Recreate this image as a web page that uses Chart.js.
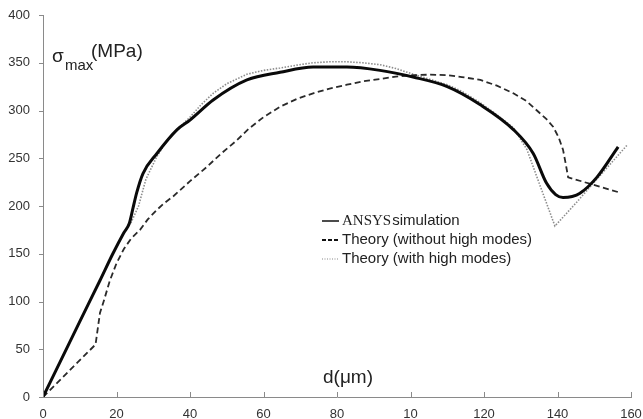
<!DOCTYPE html>
<html>
<head>
<meta charset="utf-8">
<script src="https://cdn.jsdelivr.net/npm/chart.js@4/dist/chart.umd.min.js"></script>
<style>
  html, body { margin: 0; padding: 0; background: #fff; }
  #wrap { width: 643px; height: 419px; }
</style>
</head>
<body>
<div id="wrap"><canvas id="c" width="643" height="419"></canvas></div>
<script>
// values: d in micrometres, sigma_max in MPa
var ansysX = [0, 10, 15.5, 19, 22, 23.5, 24.5, 25.5, 27.2, 31, 36.5, 40, 46.3, 55.5, 64.5, 73.5, 82.7, 91.7, 100.7, 110, 119, 128, 133.4, 137, 139.5, 141.5, 144, 146, 150.7, 156.5];
var ansysY = [0, 79, 122, 150, 172, 182, 198, 214, 234, 255, 280, 290, 311, 332, 340, 345.5, 345.5, 342, 335, 325, 306, 280, 255, 224, 212, 209, 210, 213, 230, 262];

var noHighX = [0, 14.3, 15.5, 16.5, 18.2, 20, 22, 24, 26.4, 28.5, 31, 33, 35.4, 40, 44.6, 48.5, 52.8, 56, 60, 64.5, 69, 73.5, 78, 82.7, 87, 91.7, 96, 100.7, 105, 110, 114, 119, 123.5, 128, 131.5, 134.4, 137, 138.8, 140.3, 141.5, 142.2, 142.9, 157];
var noHighY = [0, 55, 88, 100, 122, 140, 155, 166, 175, 186, 196, 203, 210, 226, 241, 255, 269, 281, 293, 304, 312, 318, 323, 327, 330.5, 333, 335.5, 337, 337.5, 337, 335, 332, 326, 318, 310, 300, 291, 283, 272, 259, 245, 230, 214];

var withHighX = [0, 10, 15.5, 19, 22, 24, 26, 28, 31, 34, 36.5, 40, 43, 46.3, 50, 55.5, 60, 64.5, 69, 73.5, 78, 82.7, 87, 91.7, 96, 100.7, 105, 110, 114, 119, 123, 128, 131.7, 135, 139.3, 145, 150, 159];
var withHighY = [0, 79, 122, 150, 172, 183, 200, 228, 252, 270, 280, 293, 306, 318, 328, 338, 342, 344.5, 347.5, 350, 351, 351, 350, 348, 344, 338, 333, 327, 320, 308, 297, 282, 259, 224, 179, 203, 225, 264];

var xTickValues = [0, 20, 40, 60, 80, 100, 120, 140, 160];
var xTickLabels = ['0', '20', '40', '60', '80', '10', '120', '140', '160'];
var yTickValues = [0, 50, 100, 150, 200, 250, 300, 350, 400];

var seriesNames = ['ANSYS simulation', 'Theory (without high modes)', 'Theory (with high modes)'];

var FONT = '"Liberation Sans Narrow", "Liberation Sans", Arial, sans-serif';

function toPoints(xs, ys) {
    return xs.map(function(x, i) { return { x: x, y: ys[i] }; });
}

// small inward tick marks, the y label inside the plot and the hand-made legend
var decor = {
    id: 'decor',
    afterDraw: function(chart) {
        var ctx = chart.ctx, xs = chart.scales.x, ys = chart.scales.y;
        var area = chart.chartArea;
        ctx.save();
        ctx.strokeStyle = '#8a8a8a';
        ctx.lineWidth = 1;
        xTickValues.forEach(function(v) {
            var px = Math.round(xs.getPixelForValue(v)) + 0.5;
            ctx.beginPath(); ctx.moveTo(px, area.bottom); ctx.lineTo(px, area.bottom - 5); ctx.stroke();
        });
        yTickValues.forEach(function(v) {
            var py = Math.round(ys.getPixelForValue(v)) + 0.5;
            ctx.beginPath(); ctx.moveTo(area.left - 4, py); ctx.lineTo(area.left, py); ctx.stroke();
        });

        ctx.fillStyle = '#222';
        ctx.textBaseline = 'alphabetic';
        ctx.textAlign = 'left';
        ctx.font = '19px ' + FONT;
        ctx.fillText('σ', 52, 62);
        ctx.font = '15px ' + FONT;
        ctx.fillText('max', 65, 70);
        ctx.font = '19px ' + FONT;
        ctx.fillText('(MPa)', 91, 57);

        ctx.font = '19px ' + FONT;
        ctx.fillText('d(μm)', 323, 383);

        // legend
        var lx0 = 322, lx1 = 339, tx = 342;
        var rows = [221, 240, 259];
        ctx.strokeStyle = '#111';
        ctx.lineWidth = 1.5;
        ctx.setLineDash([]);
        ctx.beginPath(); ctx.moveTo(lx0, rows[0]); ctx.lineTo(lx1, rows[0]); ctx.stroke();
        ctx.lineWidth = 2;
        ctx.setLineDash([4, 2]);
        ctx.beginPath(); ctx.moveTo(lx0, rows[1]); ctx.lineTo(lx1, rows[1]); ctx.stroke();
        ctx.strokeStyle = '#888';
        ctx.lineWidth = 1.2;
        ctx.setLineDash([1, 1.5]);
        ctx.beginPath(); ctx.moveTo(lx0, rows[2]); ctx.lineTo(lx1, rows[2]); ctx.stroke();
        ctx.setLineDash([]);

        ctx.textBaseline = 'middle';
        ctx.fillStyle = '#222';
        ctx.font = '15px "Liberation Serif", "Times New Roman", serif';
        ctx.fillText('ANSYS', tx, rows[0]);
        var w = ctx.measureText('ANSYS').width;
        ctx.font = '15px ' + FONT;
        ctx.fillText(seriesNames[0].replace('ANSYS ', ''), tx + w + 1, rows[0]);
        ctx.fillText(seriesNames[1], tx, rows[1]);
        ctx.fillText(seriesNames[2], tx, rows[2]);
        ctx.restore();
    }
};

new Chart(document.getElementById('c').getContext('2d'), {
    type: 'scatter',
    data: {
        datasets: [
            {
                label: seriesNames[2],
                data: toPoints(withHighX, withHighY),
                showLine: true,
                borderColor: '#8c8c8c',
                borderWidth: 1.6,
                borderDash: [1.5, 1.5],
                pointRadius: 0,
                tension: 0,
                order: 3
            },
            {
                label: seriesNames[1],
                data: toPoints(noHighX, noHighY),
                showLine: true,
                borderColor: '#2a2a2a',
                borderWidth: 1.8,
                borderDash: [6, 3.5],
                pointRadius: 0,
                tension: 0,
                order: 2
            },
            {
                label: seriesNames[0],
                data: toPoints(ansysX, ansysY),
                showLine: true,
                borderColor: '#0a0a0a',
                borderWidth: 3,
                pointRadius: 0,
                cubicInterpolationMode: 'monotone',
                order: 1
            }
        ]
    },
    options: {
        responsive: false,
        animation: false,
        layout: { padding: { top: 15, right: 0, left: 0, bottom: 0 } },
        plugins: { legend: { display: false }, tooltip: { enabled: false } },
        scales: {
            x: {
                type: 'linear',
                min: 0, max: 160,
                afterBuildTicks: function(s) { s.ticks = xTickValues.map(function(v) { return { value: v }; }); },
                afterFit: function(s) { s.height = 22; s.paddingRight = 12; s.paddingLeft = 0; },
                border: { display: true, color: '#8a8a8a', width: 1 },
                grid: { display: false },
                ticks: {
                    autoSkip: false, maxRotation: 0, padding: 2,
                    color: '#333',
                    font: { family: FONT, size: 13 },
                    callback: function(v) { return xTickLabels[xTickValues.indexOf(v)]; }
                }
            },
            y: {
                type: 'linear',
                min: 0, max: 400,
                afterBuildTicks: function(s) { s.ticks = yTickValues.map(function(v) { return { value: v }; }); },
                afterFit: function(s) { s.width = 43; },
                border: { display: true, color: '#8a8a8a', width: 1 },
                grid: { display: false },
                ticks: {
                    autoSkip: false, padding: 5,
                    color: '#333',
                    font: { family: FONT, size: 13 }
                }
            }
        }
    },
    plugins: [decor]
});
</script>
</body>
</html>
